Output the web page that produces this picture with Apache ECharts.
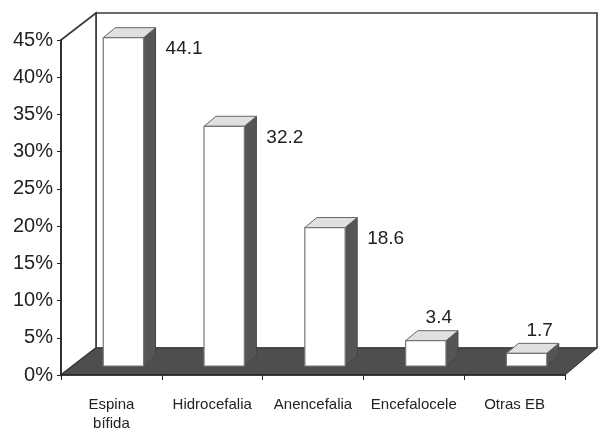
<!DOCTYPE html>
<html><head><meta charset="utf-8">
<script src="https://cdn.jsdelivr.net/npm/echarts@6/dist/echarts.min.js"></script>
<style>html,body{margin:0;padding:0;background:#fff}#c{width:598px;height:433px}</style>
</head><body><div id="c"></div>
<script>
// ---- data ----
const categories = ['Espina\nbífida', 'Hidrocefalia', 'Anencefalia', 'Encefalocele', 'Otras EB'];
const values = [44.1, 32.2, 18.6, 3.4, 1.7];
const yTickValues = [0, 5, 10, 15, 20, 25, 30, 35, 40, 45];

// ---- style ----
const FONT = '"Liberation Sans", Arial, sans-serif';
const DX = 35, DY = -27;       // full floor depth offset
const OX = 12, OY = -9;        // bar front offset into depth
const BDX = 12, BDY = -10;     // bar depth
const chart = echarts.init(document.getElementById('c'), null, {renderer: 'canvas'});

function renderFrame(params, api) {
  const cs = params.coordSys;
  const x0 = cs.x, x1 = cs.x + cs.width, yt = cs.y, yb = cs.y + cs.height;
  return {type: 'group', children: [
    {type: 'polygon', shape: {points: [[x0 + DX, yt + DY], [x1 + DX - 3, yt + DY], [x1 + DX - 3, yb + DY], [x0 + DX, yb + DY]]},
      style: {fill: '#fff', stroke: '#3a3a3a', lineWidth: 1.6}},
    {type: 'polygon', shape: {points: [[x0, yt], [x0 + DX, yt + DY], [x0 + DX, yb + DY], [x0, yb]]},
      style: {fill: '#fff', stroke: '#3a3a3a', lineWidth: 1.6}},
    {type: 'polygon', shape: {points: [[x0, yb], [x1, yb], [x1 + DX - 3, yb + DY], [x0 + DX, yb + DY]]},
      style: {fill: '#4e4e4e', stroke: '#333', lineWidth: 1}}
  ]};
}

function renderBar(params, api) {
  const i = api.value(0), v = api.value(1);
  const base = api.coord([i, 0]), top = api.coord([i, v]);
  const bw = api.size([1, 0])[0] * 0.4;
  const fx = base[0] + OX - bw / 2, fr = fx + bw;
  const fy0 = base[1] + OY, fy1 = top[1] + OY;
  const txt = v.toFixed(1);
  const tall = v >= 10;
  const label = tall
    ? {text: txt, x: fr + 22, y: fy1 + 11, align: 'left', verticalAlign: 'middle'}
    : {text: txt, x: base[0] + OX + 13, y: fy1 - 23, align: 'center', verticalAlign: 'middle'};
  return {type: 'group', children: [
    {type: 'polygon', shape: {points: [[fr, fy1], [fr + BDX, fy1 + BDY], [fr + BDX, fy0 + BDY], [fr, fy0]]},
      style: {fill: '#555', stroke: '#444', lineWidth: 1}},
    {type: 'polygon', shape: {points: [[fx, fy1], [fr, fy1], [fr + BDX, fy1 + BDY], [fx + BDX, fy1 + BDY]]},
      style: {fill: '#e0e0e0', stroke: '#666', lineWidth: 1}},
    {type: 'rect', shape: {x: fx, y: fy1, width: bw, height: fy0 - fy1},
      style: {fill: '#fff', stroke: '#777', lineWidth: 1.2}},
    {type: 'text', style: Object.assign({fill: '#222', font: '19px ' + FONT}, label)}
  ]};
}

chart.setOption({
  animation: false,
  backgroundColor: '#fff',
  grid: {left: 61, right: 33, top: 40, bottom: 53},
  xAxis: {
    type: 'category', data: categories, z: 10,
    axisLine: {show: true, lineStyle: {color: '#222', width: 1.5}},
    axisTick: {show: true, length: 5, lineStyle: {color: '#222'}},
    axisLabel: {interval: 0, fontSize: 15, fontFamily: FONT, color: '#222', margin: 20, lineHeight: 19}
  },
  yAxis: {
    type: 'value', min: yTickValues[0], max: yTickValues[yTickValues.length - 1], interval: 5, z: 10,
    axisLine: {show: true, lineStyle: {color: '#222', width: 1.5}},
    axisTick: {show: true, length: 4, lineStyle: {color: '#222'}},
    splitLine: {show: false},
    axisLabel: {fontSize: 20, fontFamily: FONT, color: '#222', margin: 8, formatter: '{value}%'}
  },
  series: [
    {type: 'custom', z: 1, clip: false, renderItem: renderFrame, data: [[0, 0]], silent: true},
    {type: 'custom', z: 3, clip: false, renderItem: renderBar,
      data: values.map((v, i) => [i, v])}
  ]
});
</script></body></html>
